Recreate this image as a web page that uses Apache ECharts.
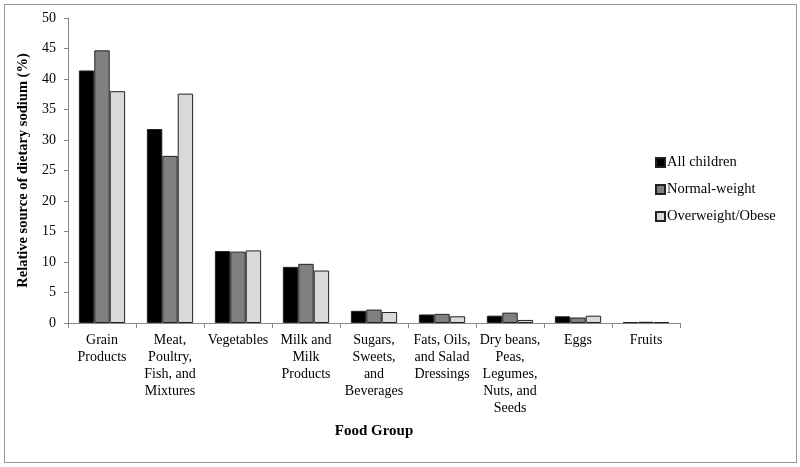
<!DOCTYPE html>
<html>
<head>
<meta charset="utf-8">
<script src="https://cdn.jsdelivr.net/npm/echarts@6/dist/echarts.min.js"></script>
<style>
  html, body { margin: 0; padding: 0; background: #fff; }
  #chart { width: 800px; height: 467px; }
  .frame { position: absolute; left: 4px; top: 4px; width: 791px; height: 457px; border: 1px solid #999; pointer-events: none; }
</style>
</head>
<body>
<div id="chart"></div>
<div class="frame"></div>
<script>
// food groups (x axis)
const foodGroups = [
  "Grain\nProducts",
  "Meat,\nPoultry,\nFish, and\nMixtures",
  "Vegetables",
  "Milk and\nMilk\nProducts",
  "Sugars,\nSweets,\nand\nBeverages",
  "Fats, Oils,\nand Salad\nDressings",
  "Dry beans,\nPeas,\nLegumes,\nNuts, and\nSeeds",
  "Eggs",
  "Fruits"
];
// relative source of dietary sodium (%)
const allChildren = [41.4, 31.8, 11.8, 9.2, 2.0, 1.4, 1.2, 1.1, 0.15];
const normalWeight = [44.7, 27.4, 11.7, 9.7, 2.2, 1.5, 1.7, 0.9, 0.2];
const overweightObese = [38.0, 37.6, 11.9, 8.6, 1.8, 1.1, 0.5, 1.2, 0.15];

const font = "Liberation Serif";
const chart = echarts.init(document.getElementById("chart"));

const mkSeries = (name, data, color) => ({
  name: name,
  type: "bar",
  data: data,
  barGap: "0%",
  barCategoryGap: "32%",
  itemStyle: { color: color, borderColor: "#222", borderWidth: 1 },
  animation: false
});

chart.setOption({
  textStyle: { fontFamily: font },
  grid: { left: 68, right: 120, top: 18, bottom: 144 },
  legend: {
    orient: "vertical",
    left: 650,
    top: 150,
    itemGap: 12,
    icon: "rect",
    itemWidth: 9,
    itemHeight: 9,
    textStyle: { fontFamily: font, fontSize: 14.5, color: "#000", padding: [0, 0, 0, -3] },
    data: ["All children", "Normal-weight", "Overweight/Obese"]
  },
  xAxis: {
    type: "category",
    data: foodGroups,
    name: "Food Group",
    nameLocation: "middle",
    nameGap: 101,
    nameTextStyle: { fontFamily: font, fontSize: 15, fontWeight: "bold", color: "#000" },
    axisLine: { lineStyle: { color: "#888" } },
    axisTick: { show: true, length: 5, lineStyle: { color: "#888" } },
    axisLabel: { interval: 0, fontFamily: font, fontSize: 14, color: "#000", lineHeight: 17, margin: 9 }
  },
  yAxis: {
    type: "value",
    min: 0,
    max: 50,
    interval: 5,
    name: "Relative source of dietary sodium (%)",
    nameLocation: "middle",
    nameGap: 37,
    nameTextStyle: { fontFamily: font, fontSize: 14.5, fontWeight: "bold", color: "#000" },
    axisLine: { show: true, lineStyle: { color: "#888" } },
    axisTick: { show: true, length: 4, lineStyle: { color: "#888" } },
    splitLine: { show: false },
    axisLabel: { fontFamily: font, fontSize: 14, color: "#000", margin: 12 }
  },
  series: [
    mkSeries("All children", allChildren, "#000000"),
    mkSeries("Normal-weight", normalWeight, "#808080"),
    mkSeries("Overweight/Obese", overweightObese, "#d9d9d9")
  ]
});
</script>
</body>
</html>
